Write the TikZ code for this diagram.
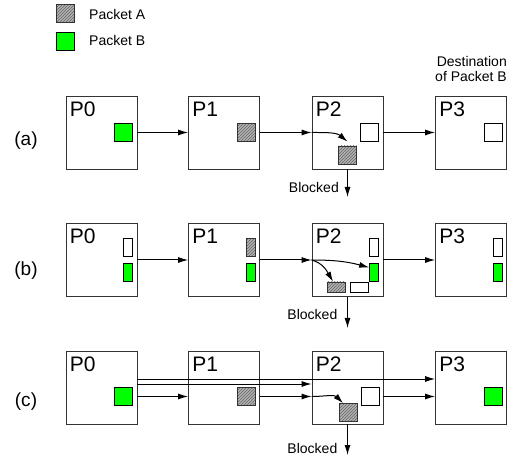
\documentclass[tikz,border=0pt]{standalone}
\usepackage{fontspec}
\setmainfont{Liberation Sans}
\usetikzlibrary{arrows.meta,patterns}
\definecolor{pgreen}{RGB}{0,255,0}

\tikzset{
  pbox/.style={draw=black!80, line width=0.8pt, minimum width=71pt, minimum height=73pt},
  pname/.style={anchor=north west, inner xsep=4pt, inner ysep=6pt, font=\fontsize{21}{21}\selectfont},
  pkA/.style={draw=black!80, line width=0.7pt, preaction={fill=black!30}, pattern=north east lines, pattern color=black!60},
  pkB/.style={draw=black, line width=0.7pt, fill=pgreen},
  pkE/.style={draw=black, line width=0.7pt, fill=white},
  sq/.style={minimum width=18pt, minimum height=18pt},
  vbar/.style={minimum width=9pt, minimum height=18pt},
  hbar/.style={minimum width=18pt, minimum height=10pt},
  small/.style={font=\fontsize{14}{15}\selectfont},
  rowname/.style={anchor=base, font=\fontsize{19}{19}\selectfont},
  link/.style={->, line width=1pt},
}

\begin{document}
\begin{tikzpicture}[x=1pt, y=1pt, inner sep=0pt, >={Latex[length=10pt,width=6pt]}]
  \useasboundingbox (0,0) rectangle (510,460);

  % legend
  \node[pkA, sq] (keyA) at (65.5,446.5) {};
  \node[small, anchor=base west] (keyAt) at (89,440) {Packet A};
  \node[pkB, sq] (keyB) at (65.5,418.5) {};
  \node[small, anchor=base west] (keyBt) at (89,414.3) {Packet B};
  \node[small, anchor=north east, align=right] (dest) at (507,403.5) {Destination\\of Packet B};

  % (a)
  \node[rowname] (la) at (26,314) {(a)};
  \node[pbox] (a0) at (101.5,327.5) {};
  \node[pbox] (a1) at (224,327.5) {};
  \node[pbox] (a2) at (347.5,327.5) {};
  \node[pbox] (a3) at (471,327.5) {};
  \node[pname] (a0n) at (a0.north west) {P0};
  \node[pname] (a1n) at (a1.north west) {P1};
  \node[pname] (a2n) at (a2.north west) {P2};
  \node[pname] (a3n) at (a3.north west) {P3};

  \node[pkB, sq] (aB0) at (123.5,327.5) {};
  \node[pkA, sq] (aA1) at (246.5,327.5) {};
  \node[pkE, sq] (aE2) at (369.5,327.5) {};
  \node[pkA, sq] (aA2) at (347.5,305) {};
  \node[pkE, sq] (aE3) at (493,327.5) {};

  \coordinate (aStop) at (347.5,263);
  \node[small, anchor=east] (aBl) at (339,272.5) {Blocked};

  \draw[link] (a0) -- (a1);
  \draw[link] (a1) -- (a2);
  \draw[link] (a2) -- (a3);
  \draw[link] (a2.west) to[out=0,in=140] ([yshift=4pt]aA2.north);
  \draw[link] (a2.south) -- (aStop);

  % (b)
  \node[rowname] (lb) at (26,184) {(b)};
  \node[pbox] (b0) at (101.5,200) {};
  \node[pbox] (b1) at (224,200) {};
  \node[pbox] (b2) at (347.5,200) {};
  \node[pbox] (b3) at (471,200) {};
  \node[pname] (b0n) at (b0.north west) {P0};
  \node[pname] (b1n) at (b1.north west) {P1};
  \node[pname] (b2n) at (b2.north west) {P2};
  \node[pname] (b3n) at (b3.north west) {P3};

  \node[pkE, vbar] (bE0) at (128,212.5) {};
  \node[pkB, vbar] (bB0) at (128,187.5) {};
  \node[pkA, vbar] (bA1) at (251,212.5) {};
  \node[pkB, vbar] (bB1) at (251,187.5) {};
  \node[pkE, vbar] (bE2) at (374,212.5) {};
  \node[pkB, vbar] (bB2) at (374,187.5) {};
  \node[pkA, hbar] (bA2) at (336,173) {};
  \node[pkE, hbar] (bF2) at (359.5,173) {};
  \node[pkE, vbar] (bE3) at (497.5,212.5) {};
  \node[pkB, vbar] (bB3) at (497.5,187.5) {};

  \coordinate (bStop) at (347.5,132);
  \node[small, anchor=east] (bBl) at (337.5,146) {Blocked};

  \draw[link] (b0) -- (b1);
  \draw[link] (b1) -- (b2);
  \draw[link] (b2) -- (b3);
  \draw[link] (b2.west) to[out=0,in=165] ([yshift=5pt]bB2.west);
  \draw[link] (b2.west) to[out=-15,in=120] ([xshift=-3pt]bA2.north);
  \draw[link] (b2.south) -- (bStop);

  % (c)
  \node[rowname] (lc) at (26,54) {(c)};
  \node[pbox] (c0) at (101.5,72.5) {};
  \node[pbox] (c1) at (224,72.5) {};
  \node[pbox] (c2) at (347.5,72.5) {};
  \node[pbox] (c3) at (471,72.5) {};
  \node[pname] (c0n) at (c0.north west) {P0};
  \node[pname] (c1n) at (c1.north west) {P1};
  \node[pname] (c2n) at (c2.north west) {P2};
  \node[pname] (c3n) at (c3.north west) {P3};

  \node[pkB, sq] (cB0) at (123.5,63.5) {};
  \node[pkA, sq] (cA1) at (246.5,63.5) {};
  \node[pkE, sq] (cE2) at (370,63.5) {};
  \node[pkA, sq] (cA2) at (348,47.5) {};
  \node[pkB, sq] (cB3) at (493,63.5) {};

  \coordinate (cStop) at (347.5,5);
  \node[small, anchor=east] (cBl) at (337.5,12) {Blocked};

  \draw[link] (c0.east |- cB0) -- (c1.west |- cB0);
  \draw[link] (c1.east |- cB0) -- (c2.west |- cB0);
  \draw[link] (c2.east |- cB0) -- (c3.west |- cB0);
  \draw[link] ([yshift=8.5pt]c0.east) -- ([yshift=8.5pt]c3.west);
  \draw[link] ([yshift=3.5pt]c0.east) -- ([yshift=3.5pt]c2.west);
  \draw[link] (c2.west |- cB0) to[out=0,in=135] ([xshift=-5pt]cA2.north);
  \draw[link] (c2.south) -- (cStop);
\end{tikzpicture}
\end{document}
